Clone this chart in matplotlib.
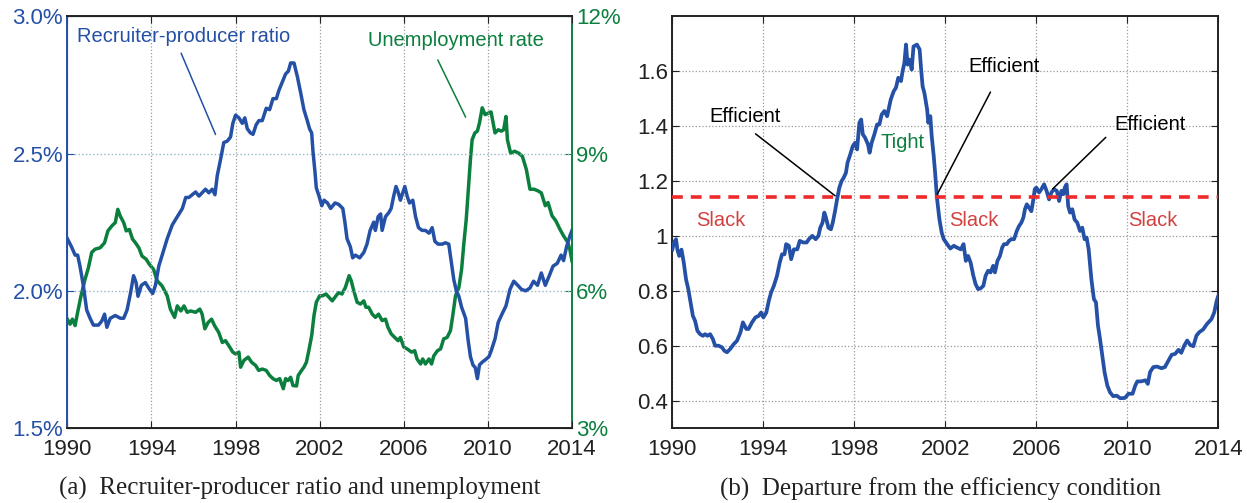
import matplotlib
matplotlib.use("Agg")
import matplotlib.pyplot as plt
import numpy as np

# (a) recruiter-producer ratio (%) and unemployment rate (%)
rp_year = [1990.0, 1990.2, 1990.37, 1990.49, 1990.6, 1990.76, 1990.92, 1991.08, 1991.24, 1991.48,
           1991.64, 1991.77, 1991.88, 1992.04, 1992.28, 1992.52, 1992.68, 1992.84, 1993.0, 1993.15,
           1993.27, 1993.36, 1993.52, 1993.71, 1993.87, 1994.06, 1994.19, 1994.35, 1994.51, 1994.75,
           1994.99, 1995.23, 1995.47, 1995.63, 1995.78, 1995.94, 1996.1, 1996.26, 1996.41, 1996.57,
           1996.73, 1996.89, 1997.02, 1997.13, 1997.29, 1997.44, 1997.6, 1997.76, 1997.87, 1998.0,
           1998.16, 1998.32, 1998.44, 1998.56, 1998.71, 1998.83, 1998.98, 1999.11, 1999.27, 1999.46,
           1999.62, 1999.78, 1999.94, 2000.06, 2000.22, 2000.38, 2000.51, 2000.62, 2000.78, 2000.94,
           2001.1, 2001.25, 2001.41, 2001.52, 2001.62, 2001.68, 2001.78, 2001.84, 2001.97, 2002.1,
           2002.21, 2002.37, 2002.52, 2002.73, 2002.9, 2003.1, 2003.2, 2003.3, 2003.46, 2003.57,
           2003.7, 2003.9, 2004.1, 2004.25, 2004.4, 2004.57, 2004.65, 2004.78, 2004.9, 2004.97,
           2005.13, 2005.29, 2005.4, 2005.52, 2005.63, 2005.73, 2005.84, 2005.92, 2006.05, 2006.16,
           2006.27, 2006.43, 2006.56, 2006.7, 2006.87, 2007.03, 2007.2, 2007.35, 2007.48, 2007.63,
           2007.83, 2007.98, 2008.14, 2008.27, 2008.38, 2008.5, 2008.62, 2008.75, 2008.94, 2009.06,
           2009.17, 2009.29, 2009.4, 2009.5, 2009.6, 2009.73, 2009.9, 2010.05, 2010.15, 2010.34,
           2010.49, 2010.67, 2010.86, 2011.05, 2011.23, 2011.42, 2011.6, 2011.8, 2012.0, 2012.17,
           2012.36, 2012.54, 2012.73, 2012.92, 2013.1, 2013.3, 2013.48, 2013.6, 2013.74, 2013.9, 2014.0]
rp_val = [2.19, 2.16, 2.13, 2.13, 2.09, 2.02, 1.93, 1.90, 1.875, 1.875,
          1.89, 1.915, 1.867, 1.90, 1.91, 1.90, 1.90, 1.93, 1.99, 2.055,
          2.03, 1.98, 2.02, 2.03, 2.01, 1.99, 2.02, 2.09, 2.13, 2.19,
          2.24, 2.27, 2.30, 2.34, 2.34, 2.35, 2.36, 2.345, 2.357, 2.37,
          2.357, 2.37, 2.35, 2.42, 2.48, 2.54, 2.545, 2.56, 2.61, 2.64,
          2.63, 2.61, 2.63, 2.59, 2.575, 2.57, 2.605, 2.62, 2.62, 2.665,
          2.66, 2.70, 2.70, 2.73, 2.76, 2.79, 2.80, 2.83, 2.83, 2.78,
          2.72, 2.66, 2.62, 2.59, 2.575, 2.51, 2.43, 2.375, 2.345, 2.31,
          2.33, 2.32, 2.30, 2.32, 2.315, 2.30, 2.25, 2.19, 2.16, 2.12,
          2.13, 2.12, 2.14, 2.17, 2.22, 2.25, 2.22, 2.27, 2.28, 2.22,
          2.27, 2.285, 2.30, 2.345, 2.38, 2.36, 2.33, 2.35, 2.38, 2.345,
          2.32, 2.33, 2.27, 2.23, 2.22, 2.22, 2.21, 2.23, 2.18, 2.17,
          2.17, 2.175, 2.17, 2.10, 2.04, 2.0, 1.98, 1.94, 1.90, 1.82,
          1.76, 1.73, 1.72, 1.68, 1.73, 1.74, 1.75, 1.76, 1.78, 1.825,
          1.885, 1.915, 1.945, 2.005, 2.035, 2.02, 2.005, 2.0, 2.01, 2.035,
          2.02, 2.065, 2.02, 2.055, 2.09, 2.10, 2.13, 2.11, 2.16, 2.20, 2.22]

ur_year = [1990.0, 1990.13, 1990.24, 1990.37, 1990.49, 1990.65, 1990.84, 1991.0, 1991.16, 1991.32,
           1991.56, 1991.77, 1991.93, 1992.12, 1992.28, 1992.4, 1992.52, 1992.68, 1992.8, 1992.95,
           1993.1, 1993.24, 1993.4, 1993.55, 1993.75, 1993.9, 1994.1, 1994.27, 1994.5, 1994.75,
           1994.9, 1995.1, 1995.23, 1995.4, 1995.55, 1995.7, 1995.86, 1996.1, 1996.3, 1996.41,
           1996.54, 1996.7, 1996.86, 1997.0, 1997.2, 1997.37, 1997.52, 1997.68, 1997.87, 1998.0,
           1998.16, 1998.24, 1998.4, 1998.6, 1998.76, 1998.95, 1999.1, 1999.27, 1999.46, 1999.62,
           1999.78, 1999.94, 2000.1, 2000.27, 2000.38, 2000.5, 2000.62, 2000.73, 2000.9, 2000.98,
           2001.14, 2001.25, 2001.37, 2001.5, 2001.62, 2001.73, 2001.84, 2002.0, 2002.13, 2002.3,
           2002.44, 2002.6, 2002.76, 2002.9, 2003.06, 2003.22, 2003.4, 2003.5, 2003.6, 2003.78,
           2003.94, 2004.1, 2004.2, 2004.33, 2004.5, 2004.65, 2004.8, 2004.97, 2005.13, 2005.25,
           2005.4, 2005.57, 2005.73, 2005.84, 2006.0, 2006.16, 2006.37, 2006.52, 2006.63, 2006.8,
           2006.9, 2007.03, 2007.2, 2007.32, 2007.43, 2007.6, 2007.75, 2007.9, 2008.06, 2008.22,
           2008.33, 2008.46, 2008.62, 2008.75, 2008.86, 2008.97, 2009.06, 2009.17, 2009.25, 2009.38,
           2009.5, 2009.6, 2009.73, 2009.87, 2010.0, 2010.15, 2010.34, 2010.49, 2010.64, 2010.75,
           2010.86, 2010.93, 2011.08, 2011.27, 2011.46, 2011.64, 2011.83, 2012.0, 2012.2, 2012.4,
           2012.54, 2012.73, 2012.86, 2013.05, 2013.23, 2013.42, 2013.6, 2013.8, 2013.9, 2014.0]
ur_val = [5.38, 5.27, 5.38, 5.24, 5.53, 5.89, 6.25, 6.5, 6.84, 6.91,
          6.94, 7.05, 7.31, 7.42, 7.49, 7.78, 7.63, 7.49, 7.31, 7.34,
          7.13, 7.05, 6.94, 6.76, 6.69, 6.58, 6.47, 6.22, 6.11, 5.89,
          5.60, 5.42, 5.67, 5.56, 5.67, 5.53, 5.56, 5.53, 5.60, 5.49,
          5.17, 5.31, 5.38, 5.24, 5.09, 4.87, 4.91, 4.80, 4.66, 4.62,
          4.66, 4.33, 4.48, 4.55, 4.44, 4.37, 4.26, 4.29, 4.26, 4.15,
          4.08, 4.04, 4.08, 3.86, 4.08, 4.04, 4.11, 3.93, 3.92, 4.15,
          4.26, 4.33, 4.44, 4.73, 5.02, 5.46, 5.75, 5.89, 5.89, 5.93,
          5.86, 5.78, 5.88, 5.96, 5.93, 6.07, 6.33, 6.22, 6.04, 5.75,
          5.71, 5.78, 5.64, 5.64, 5.49, 5.42, 5.49, 5.35, 5.38, 5.20,
          5.06, 4.98, 4.91, 4.98, 4.77, 4.73, 4.66, 4.69, 4.51, 4.40,
          4.51, 4.40, 4.51, 4.40, 4.58, 4.69, 4.73, 4.95, 4.98, 5.13,
          5.46, 5.89, 6.07, 6.47, 7.05, 7.56, 8.14, 8.87, 9.3, 9.45,
          9.49, 9.67, 10.0, 9.85, 9.88, 9.91, 9.45, 9.52, 9.49, 9.52,
          9.81, 9.3, 9.01, 9.05, 9.01, 8.94, 8.65, 8.22, 8.22, 8.18,
          8.14, 7.86, 7.93, 7.64, 7.53, 7.35, 7.2, 7.06, 6.9, 6.65]

# (b) departure from the efficiency condition
dep_year = [1990.0, 1990.07, 1990.16, 1990.22, 1990.3, 1990.4, 1990.5, 1990.6, 1990.7, 1990.8,
            1990.9, 1991.0, 1991.1, 1991.22, 1991.34, 1991.44, 1991.54, 1991.66, 1991.78, 1991.88,
            1992.03, 1992.18, 1992.28, 1992.4, 1992.54, 1992.7, 1992.84, 1992.99, 1993.1, 1993.25,
            1993.35, 1993.5, 1993.65, 1993.8, 1993.9, 1994.0, 1994.13, 1994.24, 1994.34, 1994.46,
            1994.6, 1994.72, 1994.82, 1994.93, 1995.0, 1995.12, 1995.22, 1995.34, 1995.49, 1995.6,
            1995.75, 1995.9, 1996.0, 1996.15, 1996.3, 1996.42, 1996.5, 1996.6, 1996.68, 1996.75,
            1996.86, 1996.97, 1997.05, 1997.15, 1997.24, 1997.34, 1997.44, 1997.53, 1997.63, 1997.7,
            1997.82, 1997.93, 1998.03, 1998.12, 1998.22, 1998.3, 1998.37, 1998.47, 1998.6, 1998.67,
            1998.76, 1998.88, 1999.0, 1999.1, 1999.2, 1999.32, 1999.44, 1999.54, 1999.6, 1999.73,
            1999.83, 1999.93, 2000.05, 2000.12, 2000.2, 2000.27, 2000.34, 2000.43, 2000.52, 2000.6,
            2000.75, 2000.87, 2000.93, 2001.0, 2001.08, 2001.2, 2001.25, 2001.34, 2001.4, 2001.49,
            2001.55, 2001.63, 2001.74, 2001.84, 2001.93, 2002.03, 2002.13, 2002.22, 2002.37, 2002.5,
            2002.68, 2002.8, 2002.9, 2003.0, 2003.11, 2003.23, 2003.33, 2003.44, 2003.55, 2003.67,
            2003.77, 2003.88, 2003.99, 2004.1, 2004.18, 2004.29, 2004.4, 2004.5, 2004.58, 2004.7,
            2004.8, 2004.9, 2005.02, 2005.14, 2005.24, 2005.34, 2005.43, 2005.5, 2005.58, 2005.68,
            2005.78, 2005.87, 2005.93, 2006.0, 2006.12, 2006.22, 2006.34, 2006.45, 2006.56, 2006.66,
            2006.78, 2006.9, 2007.0, 2007.1, 2007.19, 2007.25, 2007.33, 2007.4, 2007.48, 2007.58,
            2007.68, 2007.8, 2007.92, 2008.02, 2008.12, 2008.21, 2008.3, 2008.42, 2008.53, 2008.62,
            2008.71, 2008.8, 2008.9, 2009.0, 2009.12, 2009.24, 2009.38, 2009.53, 2009.68, 2009.8,
            2009.9, 2010.05, 2010.23, 2010.35, 2010.44, 2010.6, 2010.8, 2010.9, 2011.0, 2011.14,
            2011.3, 2011.5, 2011.65, 2011.77, 2011.95, 2012.1, 2012.25, 2012.37, 2012.5, 2012.63,
            2012.76, 2012.9, 2013.04, 2013.16, 2013.33, 2013.5, 2013.7, 2013.82, 2013.93, 2014.0]
dep_val = [0.951, 0.976, 0.988, 0.95, 0.927, 0.95, 0.903, 0.842, 0.806, 0.758,
           0.709, 0.69, 0.654, 0.642, 0.636, 0.642, 0.636, 0.642, 0.624, 0.60,
           0.60, 0.594, 0.582, 0.576, 0.588, 0.606, 0.618, 0.648, 0.685, 0.661,
           0.661, 0.685, 0.703, 0.709, 0.721, 0.703, 0.721, 0.764, 0.794, 0.818,
           0.855, 0.903, 0.933, 0.933, 0.97, 0.964, 0.915, 0.951, 0.951, 0.982,
           0.976, 0.976, 0.988, 1.0, 0.988, 1.0, 1.03, 1.048, 1.085, 1.067,
           1.03, 1.024, 1.048, 1.09, 1.133, 1.176, 1.20, 1.212, 1.23, 1.267,
           1.297, 1.327, 1.339, 1.315, 1.412, 1.424, 1.37, 1.358, 1.333, 1.303,
           1.339, 1.37, 1.406, 1.406, 1.442, 1.455, 1.436, 1.473, 1.497, 1.527,
           1.54, 1.576, 1.564, 1.60, 1.63, 1.697, 1.624, 1.642, 1.606, 1.69,
           1.697, 1.679, 1.612, 1.545, 1.52, 1.46, 1.412, 1.436, 1.364, 1.29,
           1.23, 1.139, 1.06, 1.012, 0.988, 0.976, 0.964, 0.954, 0.964, 0.958,
           0.951, 0.97, 0.909, 0.927, 0.903, 0.855, 0.824, 0.806, 0.809, 0.818,
           0.855, 0.873, 0.867, 0.891, 0.867, 0.909, 0.927, 0.958, 0.97, 0.97,
           0.982, 0.988, 0.988, 1.018, 1.036, 1.048, 1.067, 1.097, 1.115, 1.103,
           1.09, 1.133, 1.17, 1.176, 1.158, 1.17, 1.188, 1.164, 1.133, 1.158,
           1.17, 1.164, 1.127, 1.164, 1.152, 1.176, 1.188, 1.109, 1.085, 1.097,
           1.06, 1.048, 1.018, 1.03, 0.988, 0.994, 0.951, 0.842, 0.77, 0.758,
           0.673, 0.624, 0.564, 0.503, 0.455, 0.43, 0.416, 0.418, 0.409, 0.409,
           0.41, 0.425, 0.425, 0.455, 0.47, 0.47, 0.474, 0.461, 0.504, 0.522,
           0.524, 0.518, 0.522, 0.54, 0.567, 0.57, 0.585, 0.574, 0.60, 0.619,
           0.603, 0.598, 0.637, 0.649, 0.659, 0.679, 0.697, 0.721, 0.764, 0.782]
efficiency_level = 1.14

x_ticks = [1990, 1994, 1998, 2002, 2006, 2010, 2014]

BLUE = "#2450a6"
GREEN = "#0b7f3d"
RED = "#ee2a2a"
SLACK = "#d2413f"

plt.rcParams["font.family"] = ["Liberation Sans", "DejaVu Sans"]
fig = plt.figure(figsize=(12.47, 5.03), dpi=100)

# ---------- panel (a) ----------
ax1 = fig.add_axes([0.054, 0.149, 0.4047, 0.8186])
ax2 = ax1.twinx()
ax1.plot(rp_year, rp_val, color=BLUE, lw=2.5, zorder=3)
ax2.plot(ur_year, ur_val, color=GREEN, lw=2.5, zorder=2)
ax1.set_zorder(ax2.get_zorder() + 1)
ax1.patch.set_visible(False)

ax1.set_xlim(1990, 2014)
ax1.set_ylim(1.5, 3.0)
ax2.set_ylim(3, 12)
ax1.set_xticks(x_ticks)
ax1.set_yticks([1.5, 2.0, 2.5, 3.0])
ax1.set_yticklabels(["1.5%", "2.0%", "2.5%", "3.0%"])
ax2.set_yticks([3, 6, 9, 12])
ax2.set_yticklabels(["3%", "6%", "9%", "12%"])
ax1.grid(axis="x", ls=":", color="#9a9a9a", lw=0.9)
ax1.grid(axis="y", ls=":", color="#8fb8c8", lw=1.0)

ax1.tick_params(axis="both", direction="in", length=5, labelsize=16, pad=4, top=True)
ax1.tick_params(axis="y", colors=BLUE, pad=3)
ax1.tick_params(axis="x", colors="#222222", pad=8)
ax2.tick_params(axis="y", direction="in", length=5, labelsize=16, colors=GREEN, pad=3)
for sp in ["top", "bottom"]:
    ax1.spines[sp].set_color("#222222")
    ax1.spines[sp].set_linewidth(1.4)
ax2.spines["left"].set_color(BLUE)
ax2.spines["left"].set_linewidth(1.4)
ax2.spines["right"].set_color(GREEN)
ax2.spines["right"].set_linewidth(1.4)
ax1.spines["left"].set_color(BLUE)
ax1.spines["right"].set_visible(False)

ax1.text(1990.45, 2.925, "Recruiter-producer ratio", color=BLUE, fontsize=14.5,
         ha="left", va="center")
ax1.annotate("", xy=(1997.1, 2.56), xytext=(1995.36, 2.875),
             arrowprops=dict(arrowstyle="-", color=BLUE, lw=1.1))
ax2.text(2004.3, 11.48, "Unemployment rate", color=GREEN, fontsize=14.5,
         ha="left", va="center")
ax2.annotate("", xy=(2009.0, 9.74), xytext=(2007.56, 11.1),
             arrowprops=dict(arrowstyle="-", color=GREEN, lw=1.1))

# ---------- panel (b) ----------
ax3 = fig.add_axes([0.5392, 0.149, 0.4378, 0.8186])
ax3.plot(dep_year, dep_val, color=BLUE, lw=2.7, zorder=3)
ax3.axhline(efficiency_level, color=RED, lw=2.6, ls=(0, (3, 2.2)), zorder=4)
ax3.set_xlim(1990, 2014)
ax3.set_ylim(0.3, 1.8)
ax3.set_xticks(x_ticks)
ax3.set_yticks([0.4, 0.6, 0.8, 1.0, 1.2, 1.4, 1.6])
ax3.set_yticklabels(["0.4", "0.6", "0.8", "1", "1.2", "1.4", "1.6"])
ax3.grid(True, ls=":", color="#9a9a9a", lw=0.9)
ax3.tick_params(axis="both", direction="in", length=5, labelsize=16, pad=8,
                top=True, right=True, colors="#222222")
ax3.tick_params(axis="y", pad=3)
for sp in ax3.spines.values():
    sp.set_color("#222222")
    sp.set_linewidth(1.4)

for xs in [1992.14, 2003.27, 2011.1]:
    ax3.text(xs, 1.055, "Slack", color=SLACK, fontsize=14.5, ha="center", va="center")
ax3.text(2000.14, 1.339, "Tight", color=GREEN, fontsize=14.5, ha="center", va="center")

eff = [((1993.18, 1.434), (1993.56, 1.378), (1997.25, 1.14)),
       ((2004.6, 1.618), (2004.04, 1.533), (2001.59, 1.143)),
       ((2011.0, 1.406), (2009.14, 1.366), (2006.63, 1.164))]
for txt_pos, start, end in eff:
    ax3.text(txt_pos[0], txt_pos[1], "Efficient", color="black", fontsize=14.5,
             ha="center", va="center")
    ax3.annotate("", xy=end, xytext=start,
                 arrowprops=dict(arrowstyle="-", color="black", lw=1.1))

# captions
fig.text(0.2406, 0.028, "(a)  Recruiter-producer ratio and unemployment",
         family=["Liberation Serif", "DejaVu Serif"], fontsize=18, ha="center", va="center",
         color="#222222")
fig.text(0.754, 0.028, "(b)  Departure from the efficiency condition",
         family=["Liberation Serif", "DejaVu Serif"], fontsize=18, ha="center", va="center",
         color="#222222")

fig.savefig("out.png", dpi=100)
